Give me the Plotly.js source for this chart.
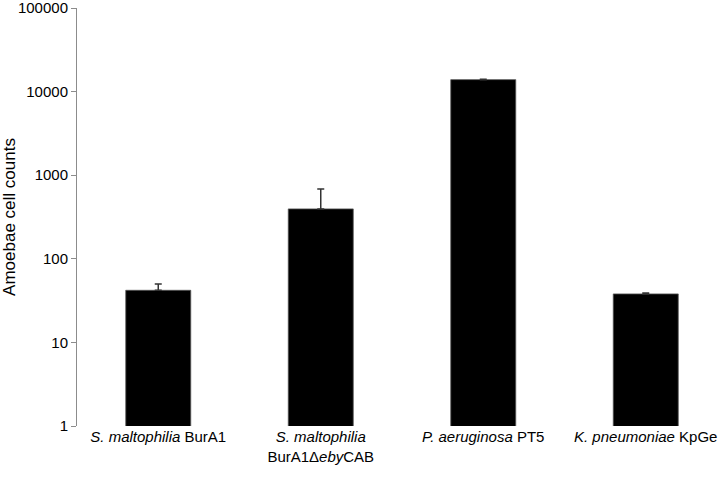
<!DOCTYPE html>
<html>
<head>
<meta charset="utf-8">
<script src="https://cdn.plot.ly/plotly-3.0.1.min.js"></script>
<style>
  body { margin: 0; background: #fff; }
  #chart { width: 727px; height: 477px; }
</style>
</head>
<body>
<div id="chart"></div>
<script>
// strains on the x axis
let strains = [
    '<i>S. maltophilia</i> BurA1',
    '<i>S. maltophilia</i><br>BurA1\u0394<i>eby</i>CAB',
    '<i>P. aeruginosa</i> PT5',
    '<i>K. pneumoniae</i> KpGe'
];

// mean counts and upper error
let counts = [42, 395, 13900, 38];
let errUp = [8, 290, 150, 1];

let trace = {
    x: strains,
    y: counts,
    type: 'bar',
    width: 0.4,
    marker: { color: '#000000', line: { color: '#555555', width: 0.8 } },
    error_y: {
        type: 'data',
        symmetric: false,
        array: errUp,
        arrayminus: [0, 0, 0, 0],
        color: '#333333',
        thickness: 1.5,
        width: 3.5
    },
    hoverinfo: 'none'
};

let layout = {
    width: 727,
    height: 477,
    margin: { l: 77, r: 0, t: 8, b: 51 },
    paper_bgcolor: '#ffffff',
    plot_bgcolor: '#ffffff',
    font: { family: 'Liberation Sans, Arial, sans-serif', size: 15, color: '#000000' },
    showlegend: false,
    bargap: 0.6,
    xaxis: {
        showline: false,
        ticks: '',
        showgrid: false,
        zeroline: false,
        tickfont: { size: 15 }
    },
    yaxis: {
        type: 'log',
        range: [0, 5],
        tickmode: 'linear',
        tick0: 0,
        dtick: 1,
        tickformat: 'd',
        tickfont: { size: 15 },
        ticklabeloverflow: 'allow',
        showline: true,
        linecolor: '#8c8c8c',
        linewidth: 1,
        ticks: 'outside',
        ticklen: 5,
        tickcolor: '#8c8c8c',
        showgrid: false,
        zeroline: false,
        automargin: false,
        title: { text: 'Amoebae cell counts', font: { size: 17 }, standoff: 4 }
    }
};

Plotly.newPlot('chart', [trace], layout, { displayModeBar: false, staticPlot: true });
</script>
</body>
</html>
